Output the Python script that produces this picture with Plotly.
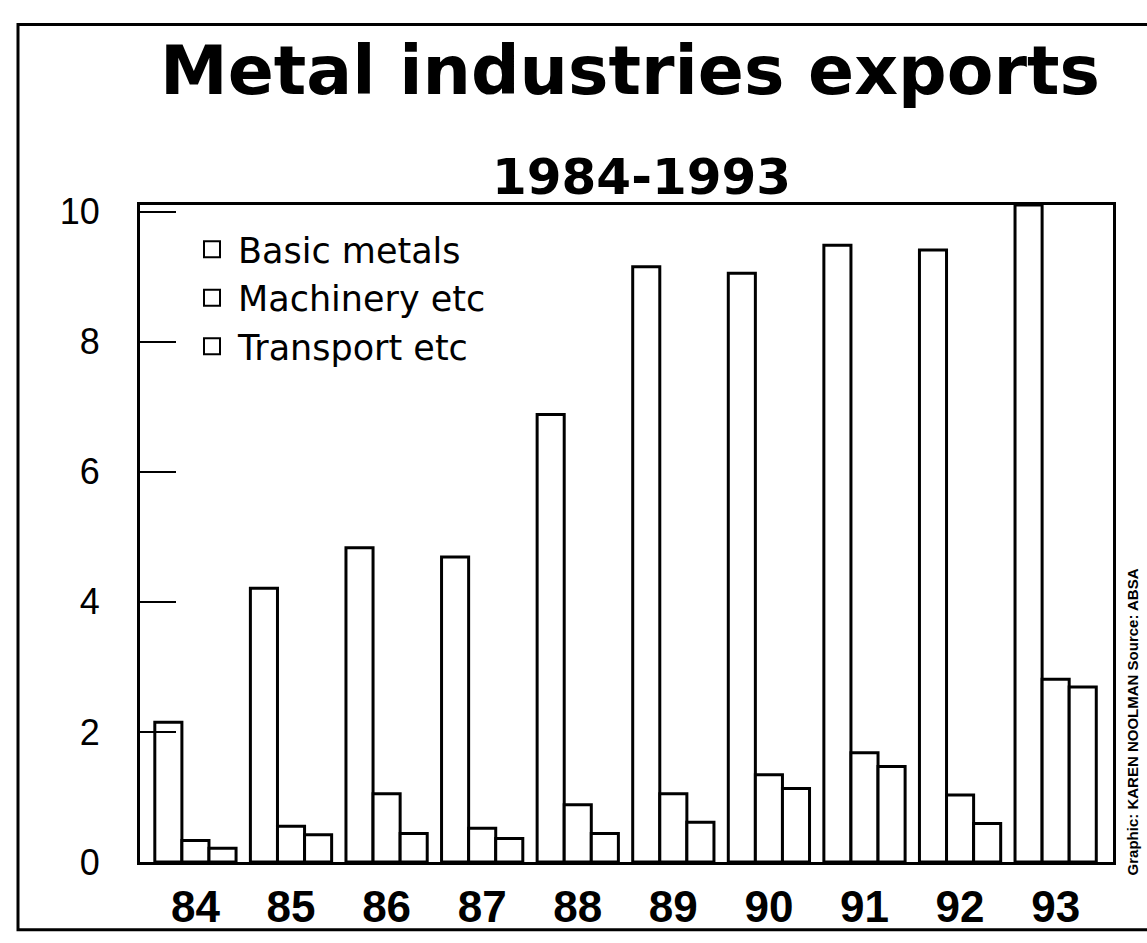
import plotly.graph_objects as go

# Export values by year (two-digit years), three product groups
years = ["84", "85", "86", "87", "88", "89", "90", "91", "92", "93"]
basic_metals = [2.15, 4.21, 4.83, 4.69, 6.88, 9.15, 9.05, 9.48, 9.41, 10.1]
machinery = [0.33, 0.55, 1.05, 0.52, 0.88, 1.05, 1.34, 1.68, 1.03, 2.81]
transport = [0.21, 0.42, 0.44, 0.36, 0.44, 0.61, 1.13, 1.47, 0.59, 2.69]
series_names = ["Basic metals", "Machinery etc", "Transport etc"]
y_ticks = [0, 2, 4, 6, 8, 10]

W, H = 1147, 943
ML, MR, MT, MB = 140, 34, 205, 79
PW, PH = W - ML - MR, H - MT - MB


def px(x):
    return (x - ML) / PW


def py(y):
    return (H - MB - y) / PH


LINE = dict(color="black", width=3)

fig = go.Figure()
for name, vals in zip(series_names, [basic_metals, machinery, transport]):
    fig.add_trace(go.Bar(
        x=years, y=vals, name=name, showlegend=False,
        marker=dict(color="white", line=LINE),
    ))

# Legend keys: open squares, one per series
for name in series_names:
    fig.add_trace(go.Scatter(
        x=[None], y=[None], name=name, mode="markers",
        marker=dict(symbol="square", size=16, color="white",
                    line=dict(color="black", width=2)),
    ))

fig.update_layout(
    width=W, height=H,
    margin=dict(l=ML, r=MR, t=MT, b=MB),
    paper_bgcolor="white", plot_bgcolor="white",
    barmode="group", bargap=0.15, bargroupgap=0,
    showlegend=True,
    legend=dict(
        x=px(186), y=py(220), xanchor="left", yanchor="top",
        font=dict(family="DejaVu Sans", size=35, color="black"),
        bgcolor="rgba(0,0,0,0)", itemwidth=42, tracegroupgap=0,
    ),
    font=dict(family="Liberation Sans", color="black"),
)

fig.update_xaxes(
    type="category", range=[-0.58, 9.6],
    showline=True, linecolor="black", linewidth=3, mirror=True,
    ticks="", showgrid=False,
    tickfont=dict(family="Liberation Sans", size=44,
                  weight="bold", color="black"),
    ticklabelstandoff=4,
)
fig.update_yaxes(
    range=[0, 10.1], tickvals=y_ticks,
    showline=True, linecolor="black", linewidth=3, mirror=True,
    ticks="inside", ticklen=36, tickwidth=2, tickcolor="black",
    showgrid=False, zeroline=False,
    tickfont=dict(family="Liberation Sans", size=36, color="black"),
    ticklabelstandoff=30,
)

# Title and subtitle
fig.add_annotation(
    text="Metal industries exports", xref="paper", yref="paper",
    x=px(630), y=py(70), xanchor="center", yanchor="middle",
    showarrow=False,
    font=dict(family="DejaVu Sans", size=68, weight="bold", color="black"),
)
fig.add_annotation(
    text="1984-1993", xref="paper", yref="paper",
    x=px(641), y=py(177), xanchor="center", yanchor="middle",
    showarrow=False,
    font=dict(family="DejaVu Sans", size=50, weight="bold", color="black"),
)

# Vertical credit line along the right edge
fig.add_annotation(
    text="Graphic: KAREN NOOLMAN Source: ABSA", xref="paper", yref="paper",
    x=px(1132), y=py(880), xanchor="center", yanchor="bottom",
    textangle=-90, showarrow=False,
    font=dict(family="Liberation Sans", size=15, weight="bold", color="black"),
)

# Outer frame around the whole graphic
fig.add_shape(
    type="rect", xref="paper", yref="paper",
    x0=px(18), x1=px(1160), y0=py(932), y1=py(24),
    line=dict(color="black", width=3), fillcolor="rgba(0,0,0,0)",
    layer="below",
)

fig.write_html("out.html")
